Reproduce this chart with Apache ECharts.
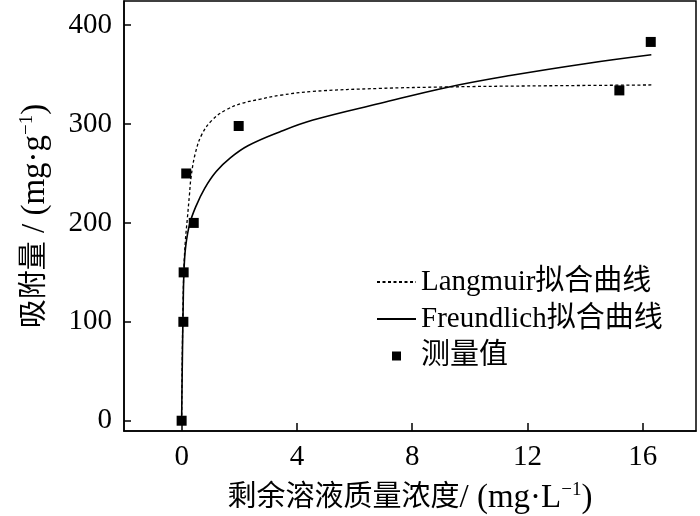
<!DOCTYPE html>
<html>
<head>
<meta charset="utf-8">
<script src="https://cdn.jsdelivr.net/npm/echarts@6/dist/echarts.min.js"></script>
<style>
  html, body { margin: 0; padding: 0; background: #fff; }
  #chart { width: 700px; height: 516px; }
</style>
</head>
<body>
<div id="chart"></div>
<script>
// 测量值
const measuredC = [0, 0.06, 0.07, 0.16, 0.42, 1.98, 15.19, 16.28];
const measuredQ = [0, 100, 150, 250, 200, 298, 334, 383];

// Langmuir 拟合曲线
const langmuirC = [0, 0.02, 0.05, 0.08, 0.13, 0.2, 0.27, 0.33, 0.48, 0.71, 1.06, 1.52, 2.1, 2.7, 3.4, 4.56, 6.88, 9.2, 12, 16.3];
const langmuirQ = [0, 60, 120, 155, 182, 205, 228, 247, 271, 290, 304, 314, 321, 325, 329, 333, 336, 337.5, 338.5, 339.5];

// Freundlich 拟合曲线
const freundC = [0, 0.02, 0.05, 0.08, 0.14, 0.28, 0.5, 0.8, 1.2, 1.7, 2.3, 3.4, 4.56, 6.9, 9.2, 11.4, 14, 16.3];
const freundQ = [0, 50, 110, 150, 176, 199, 217, 235, 252, 266, 278, 292, 304, 321, 337, 349, 361, 370];

const xTicks = [0, 4, 8, 12, 16];
const yTicks = [0, 100, 200, 300, 400];

const font = '"Liberation Serif", "Noto Sans CJK SC", serif';

function pairs(xs, ys) {
  return xs.map((x, i) => [x, ys[i]]);
}

const titleRich = {
  c: { fontFamily: font, fontSize: 29, color: '#000', lineHeight: 34 },
  l: { fontFamily: font, fontSize: 33, color: '#000', lineHeight: 34 },
  s: { fontFamily: font, fontSize: 19, color: '#000', verticalAlign: 'top', lineHeight: 19 }
};

const chart = echarts.init(document.getElementById('chart'));
chart.setOption({
  animation: false,
  backgroundColor: '#fff',
  textStyle: { fontFamily: font, color: '#000' },
  grid: {
    left: 124, right: 4, top: 1, bottom: 85,
    outerBoundsMode: 'none',
    show: true, borderColor: '#000', borderWidth: 1.5
  },
  legend: {
    orient: 'vertical',
    left: 376, top: 267,
    padding: 0,
    itemWidth: 39, itemHeight: 9, itemGap: 7,
    textStyle: { fontFamily: font, fontSize: 29, color: '#000', lineHeight: 30 },
    data: [
      { name: 'Langmuir拟合曲线', itemStyle: { opacity: 0 } },
      { name: 'Freundlich拟合曲线', itemStyle: { opacity: 0 } },
      { name: '测量值', icon: 'path://M0,0L1,0L1,1L0,1Z', itemStyle: { opacity: 1 } }
    ]
  },
  xAxis: {
    type: 'value',
    min: -2, max: 17.85,
    name: '{c|剩余溶液质量浓度}{l|/ (mg·L}{s|−1}{l|)}',
    nameLocation: 'middle',
    nameGap: 50,
    nameTextStyle: { rich: titleRich },
    axisLine: { onZero: false, lineStyle: { color: '#000', width: 1.5 } },
    axisTick: { inside: true, length: 8, customValues: xTicks, lineStyle: { color: '#000', width: 1.5 } },
    axisLabel: { customValues: xTicks, fontFamily: font, fontSize: 29, color: '#000', margin: 12 },
    splitLine: { show: false }
  },
  yAxis: {
    type: 'value',
    min: -10.4, max: 424.4,
    name: '{c|吸附量}{l| / (mg·g}{s|−1}{l|)}',
    nameLocation: 'middle',
    nameGap: 72,
    nameTextStyle: { rich: titleRich },
    axisLine: { onZero: false, lineStyle: { color: '#000', width: 1.5 } },
    axisTick: { inside: true, length: 7, customValues: yTicks, lineStyle: { color: '#000', width: 1.5 } },
    axisLabel: { customValues: yTicks, fontFamily: font, fontSize: 29, color: '#000', margin: 12 },
    splitLine: { show: false }
  },
  series: [
    {
      name: 'Langmuir拟合曲线',
      type: 'line',
      data: pairs(langmuirC, langmuirQ),
      showSymbol: false,
      symbol: 'none',
      smooth: 0.4,
      lineStyle: { color: '#000', width: 1.3, type: [3, 2.5] },
      itemStyle: { color: '#000' },
      z: 2
    },
    {
      name: 'Freundlich拟合曲线',
      type: 'line',
      data: pairs(freundC, freundQ),
      showSymbol: false,
      symbol: 'none',
      smooth: 0.4,
      lineStyle: { color: '#000', width: 1.6 },
      itemStyle: { color: '#000' },
      z: 2
    },
    {
      name: '测量值',
      type: 'scatter',
      data: pairs(measuredC, measuredQ),
      symbol: 'rect',
      symbolSize: 10,
      itemStyle: { color: '#000', opacity: 1 },
      z: 3
    }
  ]
});
</script>
</body>
</html>
